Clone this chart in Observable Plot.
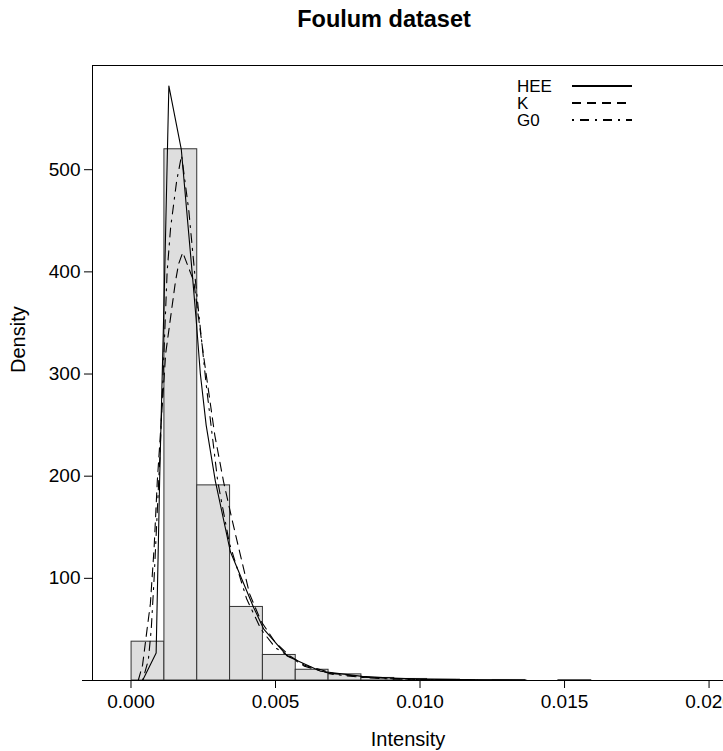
<!DOCTYPE html>
<html>
<head>
<meta charset="utf-8">
<script src="https://cdn.jsdelivr.net/npm/d3@7"></script>
<script src="https://cdn.jsdelivr.net/npm/@observablehq/plot@0.6"></script>
<style>
  html, body { margin: 0; padding: 0; background: #fff; }
  #chart { width: 723px; height: 751px; }
</style>
</head>
<body>
<div id="chart"></div>
<script>
// Histogram breaks and densities
const breaks = [0.00002, 0.001156, 0.002292, 0.003428, 0.004564, 0.0057, 0.006836, 0.007972, 0.009108, 0.010244, 0.01138, 0.012516, 0.013652, 0.014788, 0.015924];
const density = [38, 520, 191, 72, 25, 10.5, 6, 2.5, 1.5, 0.8, 0.3, 0.5, 0, 0.3];

// Fitted densities
const heeX = [0.0004, 0.00087, 0.00099, 0.00116, 0.00131, 0.00174, 0.00212, 0.00225, 0.0024, 0.0026, 0.00292, 0.00344, 0.00425, 0.0046, 0.0054, 0.00656, 0.008, 0.009, 0.010, 0.012, 0.0137];
const heeY = [0, 27, 195, 391, 582, 520, 398, 355, 300, 250, 195, 126, 71, 50, 24, 9, 4, 2.5, 1.5, 0.6, 0.3];

const kX = [0.00025, 0.0004, 0.00056, 0.00067, 0.0008, 0.00091, 0.0012, 0.00154, 0.00165, 0.00179, 0.00217, 0.0025, 0.0029, 0.0032, 0.0035, 0.0041, 0.0045, 0.005, 0.0055, 0.006, 0.007, 0.008, 0.009, 0.010, 0.012];
const kY = [0, 15, 51, 75, 130, 195, 320, 391, 408, 419, 391, 320, 240, 195, 157, 85, 58, 37, 24, 15, 7, 3.5, 1.8, 1, 0.3];

const g0X = [0.0004, 0.0006, 0.0007, 0.0008, 0.0009, 0.001, 0.00125, 0.00137, 0.00158, 0.00175, 0.002, 0.00223, 0.0026, 0.003, 0.0034, 0.004, 0.0045, 0.005, 0.006, 0.007, 0.008, 0.009, 0.010, 0.012];
const g0Y = [0, 20, 50, 100, 160, 220, 400, 443, 489, 514, 460, 391, 290, 195, 135, 80, 50, 32, 14, 6, 3, 1.5, 0.7, 0.2];

const xTicks = [0, 0.005, 0.010, 0.015, 0.020];
const yTicks = [100, 200, 300, 400, 500];
const seriesNames = ["HEE", "K", "G0"];
const seriesDash = [null, "9,6", "2,6,9,6"];

const xDomain = [-0.001332, 0.0205];
const yDomain = [0, 602];

const bins = density.map((d, i) => ({x1: breaks[i], x2: breaks[i + 1], y: d}));
const toPts = (xs, ys) => xs.map((x, i) => ({x, y: ys[i]}));
const hee = toPts(heeX, heeY), kk = toPts(kX, kY), g0 = toPts(g0X, g0Y);

const font = "'Liberation Sans', Arial, Helvetica, sans-serif";

const chart = Plot.plot({
  width: 723,
  height: 751,
  marginLeft: 92,
  marginRight: 0,
  marginTop: 65,
  marginBottom: 71,
  style: {fontFamily: font, fontSize: "19px", color: "#000", background: "#fff", overflow: "visible"},
  x: {domain: xDomain},
  y: {domain: yDomain},
  marks: [
    Plot.rectY(bins, {x1: "x1", x2: "x2", y: "y", fill: "#dedede", stroke: "#333", strokeWidth: 1}),
    Plot.line(hee, {x: "x", y: "y", stroke: "#000", strokeWidth: 1.1}),
    Plot.line(kk, {x: "x", y: "y", stroke: "#000", strokeWidth: 1.1, strokeDasharray: seriesDash[1]}),
    Plot.line(g0, {x: "x", y: "y", stroke: "#000", strokeWidth: 1.1, strokeDasharray: seriesDash[2]}),
    Plot.ruleX([xDomain[0]], {stroke: "#000", strokeWidth: 1}),
    Plot.ruleY([yDomain[1]], {stroke: "#000", strokeWidth: 1}),
    Plot.ruleY([0], {stroke: "#000", strokeWidth: 1, insetLeft: -10}),
    Plot.axisY({ticks: yTicks, tickSize: 8, tickPadding: 4, label: null, fontSize: 19}),
    Plot.axisX({ticks: xTicks, tickSize: 8, tickPadding: 6, tickFormat: d3.format(".3f"), label: null, fontSize: 19}),
    Plot.text(["Intensity"], {text: d => d, frameAnchor: "bottom", dy: 59, fontSize: 20, lineAnchor: "middle"}),
    Plot.text(["Density"], {text: d => d, frameAnchor: "left", dx: -74, rotate: -90, fontSize: 20, lineAnchor: "middle"}),
    Plot.text(["Foulum dataset"], {text: d => d, frameAnchor: "top", dx: -24, dy: -46, fontSize: 23.5, fontWeight: "bold", lineAnchor: "middle"})
  ]
});

// Legend
const svg = d3.select(chart);
const lg = svg.append("g").attr("font-family", font).attr("font-size", 17).attr("text-anchor", "start");
seriesNames.forEach((name, i) => {
  const cy = 86 + i * 17;
  lg.append("text").attr("x", 517).attr("y", cy).attr("dy", "0.35em").attr("text-anchor", "start").text(name);
  const ln = lg.append("line").attr("x1", 572).attr("x2", 632).attr("y1", cy).attr("y2", cy)
    .attr("stroke", "#000").attr("stroke-width", 2);
  if (seriesDash[i]) ln.attr("stroke-dasharray", seriesDash[i]);
});

document.getElementById("chart").appendChild(chart);
</script>
</body>
</html>
